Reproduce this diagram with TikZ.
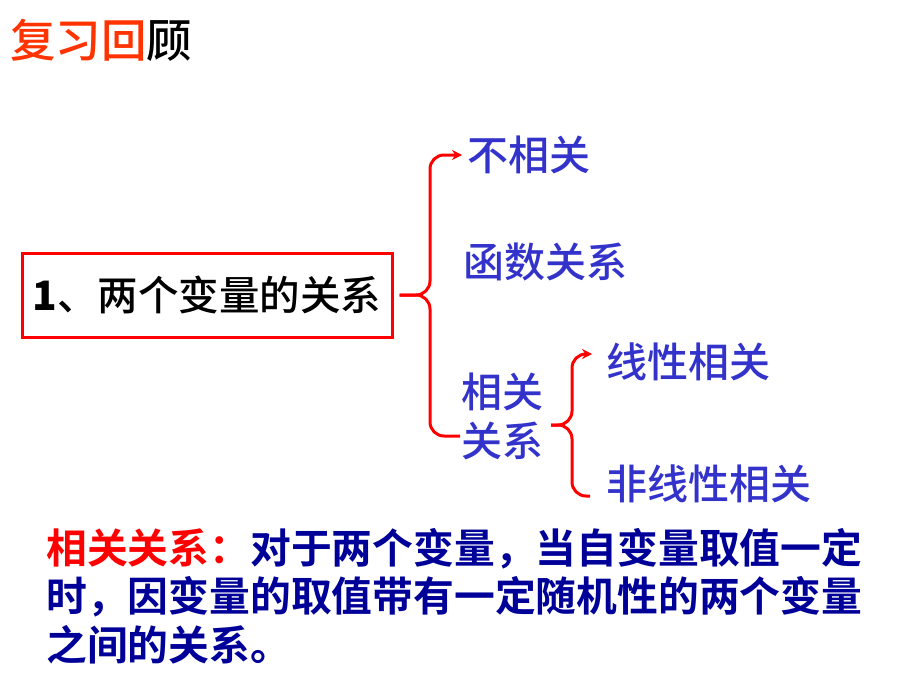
\documentclass[tikz,border=0pt]{standalone}
\usepackage{fontspec}
\setmainfont{Noto Sans CJK SC}[BoldFont={Noto Sans CJK SC Bold}]
\newfontfamily\cjkmed{Noto Sans CJK SC Medium}
\usetikzlibrary{arrows.meta}
\definecolor{redline}{RGB}{255,0,0}
\definecolor{titlered}{RGB}{255,51,0}
\definecolor{txtblue}{RGB}{51,51,204}
\definecolor{navy}{RGB}{0,0,153}
\tikzset{
  br/.style={draw=redline,line width=3pt,rounded corners=14pt},
  arr/.style={-{Stealth[length=10pt,width=10pt]}},
  lbl/.style={text=txtblue,inner sep=0pt,anchor=west,font=\cjkmed\fontsize{41}{46}\selectfont},
}
\begin{document}
\begin{tikzpicture}[x=1pt,y=-1pt]
\useasboundingbox (0,0) rectangle (920,690);
% title
\node[anchor=west,inner sep=0pt,font=\cjkmed\fontsize{45.5}{50}\selectfont] (title) at (10,40)
  {\textcolor{titlered}{复习回}\textcolor{black}{顾}};
% main box
\node[draw=redline,line width=3pt,minimum width=370pt,minimum height=84pt,inner sep=0pt,
  font=\cjkmed\fontsize{40.5}{45}\selectfont] (box) at (207,295) {{\bfseries 1}、两个变量的关系};
% labels
\node[lbl] (n1) at (467,155) {不相关};
\node[lbl] (n2) at (463,262) {函数关系};
\node[lbl] (r1) at (461,392) {相关};
\node[lbl] (r2) at (461,441) {关系};
\node[lbl] (l1) at (606,362) {线性相关};
\node[lbl] (l2) at (606,484) {非线性相关};
% main brace
\coordinate (t1) at ([xshift=6pt]box.east);
\coordinate (v1) at (430,155);
\coordinate (v2) at (430,436);
\draw[br,arr] (t1) -| (v1) -- ([xshift=-5pt]n1.west);
\draw[br] (t1) -| (v2) -- ([xshift=-1pt]r2.west |- v2);
% second brace
\coordinate (t2) at (551,425);
\coordinate (w1) at (572,354);
\coordinate (w2) at (572,496);
\draw[br,arr] (t2) -| (w1) -- ([xshift=-14pt]l1.west |- w1);
\draw[br] (t2) -| (w2) -- ([xshift=-16pt]l2.west |- w2);
% definition
\node[anchor=north west,inner sep=0pt,align=left,text=navy,
  font=\fontsize{40.8}{48.5}\selectfont\bfseries] (def) at (46,528)
  {\textcolor{redline}{相关关系：}对于两个变量，当自变量取值一定\\
   时，因变量的取值带有一定随机性的两个变量\\
   之间的关系。};
\end{tikzpicture}
\end{document}
